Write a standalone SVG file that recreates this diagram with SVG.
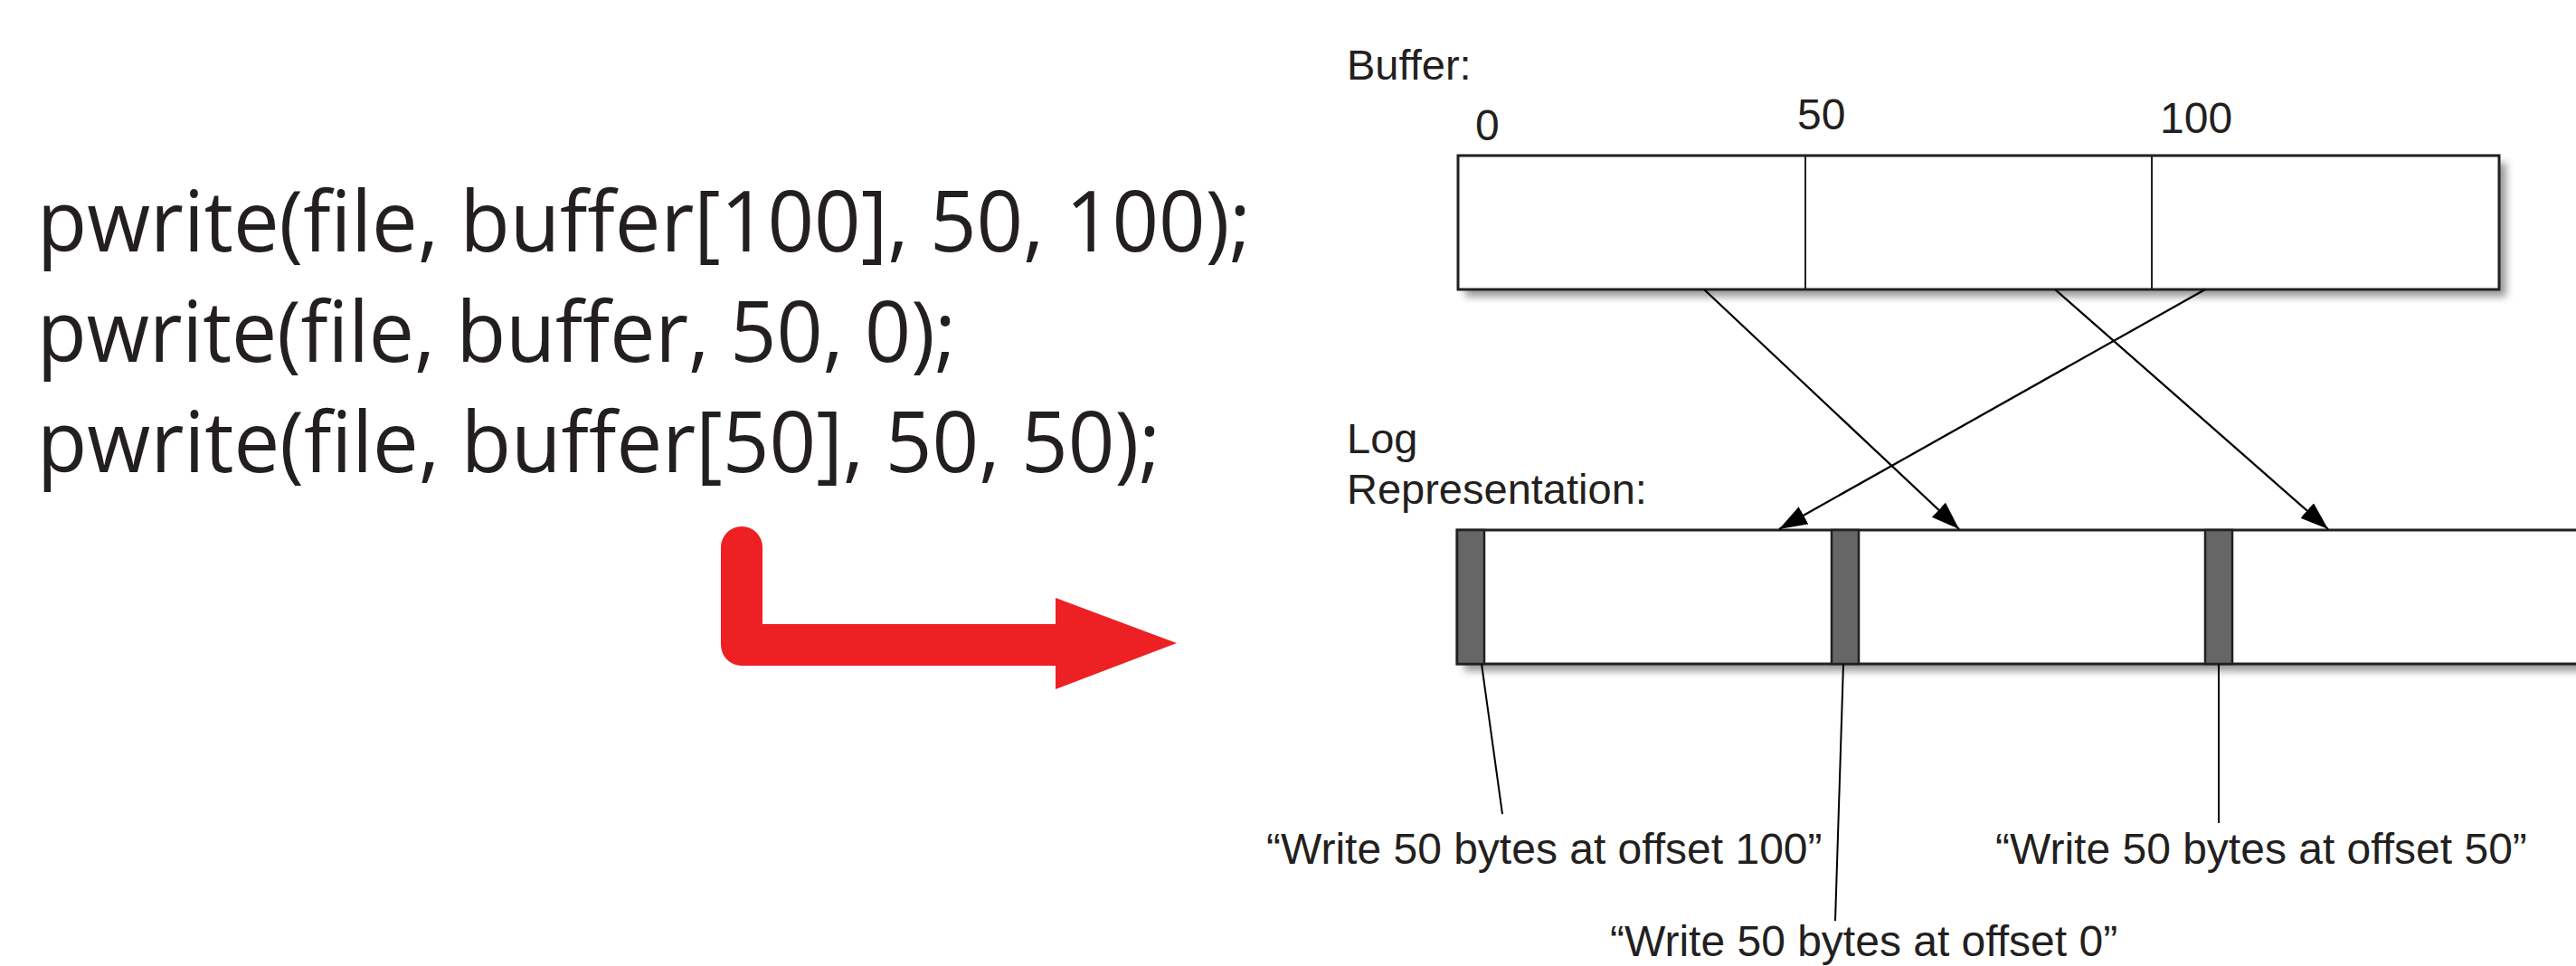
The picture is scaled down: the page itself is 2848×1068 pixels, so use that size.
<svg xmlns="http://www.w3.org/2000/svg" width="2848" height="1068" viewBox="0 0 2848 1068">
<defs>
<style>
.code{font-family:"Open Sans","Noto Sans",sans-serif;font-size:94px;fill:#231f20}
.lbl{font-family:"Liberation Sans",Arial,sans-serif;font-size:47px;fill:#231f20}
.num{font-family:"Liberation Sans",Arial,sans-serif;font-size:48px;fill:#231f20}
.note{font-family:"Liberation Sans",Arial,sans-serif;font-size:48px;fill:#231f20}
.box{fill:#fff;stroke:#231f20;stroke-width:3}
.div{stroke:#231f20;stroke-width:2}
.mark{fill:#666;stroke:#231f20;stroke-width:2.5}
.conn{stroke:#000;stroke-width:2.3;fill:none}
.lead{stroke:#000;stroke-width:2;fill:none}
.shadow{fill:#000;opacity:0.4}
</style>
<filter id="blur" x="-5%" y="-30%" width="110%" height="160%"><feGaussianBlur stdDeviation="4"/></filter>
<marker id="ah" markerUnits="userSpaceOnUse" markerWidth="34" markerHeight="24" refX="31" refY="11" orient="auto"><path d="M0,0 L31,11 L0,22 Z" fill="#000"/></marker>
</defs>
<rect width="2848" height="1068" fill="#fff"/>

<g id="code">
<text class="code" x="41" y="278" textLength="1342" lengthAdjust="spacingAndGlyphs">pwrite(file, buffer[100], 50, 100);</text>
<text class="code" x="41" y="400" textLength="1016" lengthAdjust="spacingAndGlyphs">pwrite(file, buffer, 50, 0);</text>
<text class="code" x="41" y="522" textLength="1242" lengthAdjust="spacingAndGlyphs">pwrite(file, buffer[50], 50, 50);</text>
</g>

<g id="red-arrow">
<path d="M820,605 L820,713 L1170,713" fill="none" stroke="#ed2024" stroke-width="46" stroke-linecap="round" stroke-linejoin="round"/>
<polygon points="1167,661 1301,711 1167,762" fill="#ed2024"/>
</g>

<g id="buffer">
<text class="lbl" x="1489" y="88">Buffer:</text>
<text class="num" x="1631" y="155">0</text>
<text class="num" x="1987" y="143">50</text>
<text class="num" x="2388" y="147">100</text>
<rect class="shadow" x="1620" y="180" width="1151" height="148" filter="url(#blur)"/>
<rect class="box" x="1612" y="172" width="1151" height="148"/>
<line class="div" x1="1996" y1="172" x2="1996" y2="320"/>
<line class="div" x1="2379" y1="172" x2="2379" y2="320"/>
</g>

<g id="log">
<text class="lbl" x="1489" y="501">Log</text>
<text class="lbl" x="1489" y="557">Representation:</text>
<rect class="shadow" x="1619" y="594" width="1300" height="148" filter="url(#blur)"/>
<rect class="box" x="1611" y="586" width="1300" height="148"/>
<rect class="mark" x="1611" y="586" width="30" height="148"/>
<rect class="mark" x="2025" y="586" width="30" height="148"/>
<rect class="mark" x="2438" y="586" width="30" height="148"/>
</g>

<g id="connectors">
<line class="conn" x1="1884" y1="320" x2="2166" y2="585" marker-end="url(#ah)"/>
<line class="conn" x1="2272" y1="320" x2="2574" y2="585" marker-end="url(#ah)"/>
<line class="conn" x1="2438" y1="320" x2="1967" y2="585" marker-end="url(#ah)"/>
<line class="lead" x1="1638" y1="734" x2="1661" y2="900"/>
<line class="lead" x1="2038" y1="734" x2="2029" y2="1018"/>
<line class="lead" x1="2453" y1="734" x2="2453" y2="910"/>
</g>

<g id="notes">
<text class="note" x="1400" y="955">“Write 50 bytes at offset 100”</text>
<text class="note" x="2206" y="955">“Write 50 bytes at offset 50”</text>
<text class="note" x="1780" y="1057">“Write 50 bytes at offset 0”</text>
</g>
</svg>
